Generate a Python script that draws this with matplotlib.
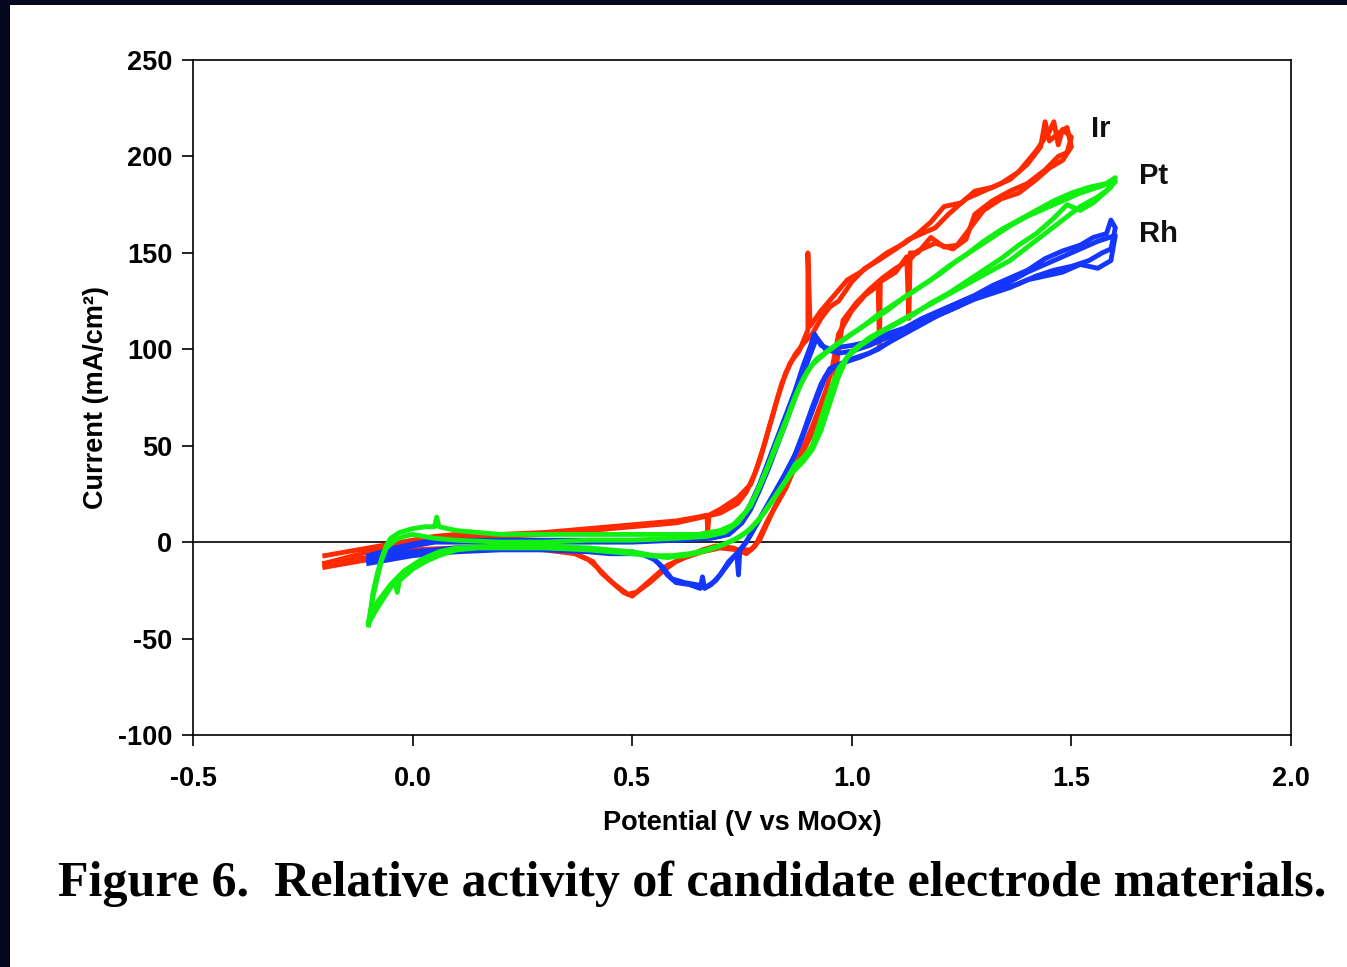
import matplotlib
matplotlib.use("Agg")
import matplotlib.pyplot as plt
from matplotlib.patches import Rectangle

# Ir (red) - two cycles, (potential, current)
ir_v1 = [-0.20, -0.15, -0.10, -0.05, 0.00, 0.05, 0.10, 0.20, 0.30, 0.40, 0.50, 0.60, 0.65, 0.67, 0.672, 0.675,
         0.70, 0.74, 0.77, 0.79, 0.81, 0.83, 0.85, 0.87, 0.89, 0.91, 0.93, 0.95, 0.97, 1.00, 1.03, 1.06, 1.10,
         1.13, 1.16, 1.19, 1.22, 1.26, 1.30, 1.34, 1.38, 1.42, 1.45, 1.46, 1.47, 1.48, 1.50,
         1.49, 1.47, 1.44, 1.40, 1.36, 1.32, 1.28, 1.26, 1.23, 1.19, 1.15, 1.13, 1.10, 1.07, 1.04, 1.01, 0.98,
         0.97, 0.96, 0.93, 0.90, 0.86, 0.82, 0.79, 0.77, 0.74, 0.70, 0.66, 0.62, 0.58, 0.55, 0.52, 0.50, 0.48,
         0.45, 0.42, 0.40, 0.35, 0.30, 0.20, 0.10, 0.00, -0.10, -0.20]
ir_i1 = [-7, -5, -3, -1, 1, 3, 4, 4, 5, 7, 9, 11, 13, 14, 6, 14,
         17, 23, 30, 42, 58, 74, 88, 97, 103, 108, 116, 122, 125, 135, 142, 146, 152,
         157, 160, 163, 170, 178, 182, 186, 192, 203, 213, 218, 206, 214, 210,
         202, 200, 193, 186, 182, 177, 170, 157, 152, 155, 151, 146, 142, 137, 131, 124, 115,
         100, 83, 66, 52, 34, 16, 1, -4, -4, -3, -5, -8, -12, -18, -24, -28, -26,
         -20, -13, -9, -4, -3, -2, -3, -4, -8, -11]
ir_v2 = [-0.20, -0.15, -0.10, -0.05, 0.00, 0.05, 0.10, 0.20, 0.30, 0.40, 0.50, 0.60, 0.70, 0.74, 0.76, 0.78,
         0.80, 0.82, 0.84, 0.86, 0.88, 0.90, 0.90, 0.905, 0.93, 0.96, 0.99, 1.02, 1.05, 1.08, 1.12, 1.15, 1.18,
         1.21, 1.25, 1.28, 1.32, 1.36, 1.40, 1.43, 1.44, 1.45, 1.47, 1.49, 1.50,
         1.48, 1.45, 1.42, 1.38, 1.34, 1.30, 1.27, 1.24, 1.21, 1.18, 1.15, 1.133, 1.13, 1.125, 1.10, 1.065,
         1.063, 1.06, 1.03, 1.00, 0.97, 0.955, 0.94, 0.91, 0.88, 0.85, 0.81, 0.78, 0.76, 0.73, 0.69, 0.66,
         0.63, 0.60, 0.57, 0.54, 0.51, 0.49, 0.46, 0.43, 0.41, 0.37, 0.30, 0.20, 0.10, 0.00, -0.10, -0.20]
ir_i2 = [-11, -8, -5, -2, 0, 2, 3, 3, 4, 6, 8, 10, 15, 20, 26, 36,
         50, 66, 82, 93, 99, 110, 150, 112, 120, 128, 136, 140, 145, 150, 155, 160, 166,
         174, 176, 182, 184, 188, 196, 205, 218, 208, 212, 215, 205,
         198, 194, 188, 181, 178, 172, 163, 154, 153, 158, 150, 150, 116, 148, 140, 135,
         101, 133, 128, 120, 108, 90, 78, 60, 44, 28, 12, -2, -6, -3, -2, -4,
         -7, -10, -15, -21, -26, -27, -22, -16, -10, -6, -4, -3, -4, -5, -9, -13]

# Rh (blue)
rh_v1 = [-0.10, -0.07, -0.04, 0.00, 0.05, 0.10, 0.20, 0.30, 0.40, 0.50, 0.60, 0.66, 0.70, 0.73, 0.75, 0.77,
         0.79, 0.81, 0.83, 0.85, 0.87, 0.89, 0.905, 0.915, 0.93, 0.95, 0.97, 1.00, 1.04, 1.08, 1.12, 1.16,
         1.20, 1.24, 1.28, 1.32, 1.36, 1.40, 1.44, 1.48, 1.52, 1.55, 1.58, 1.59, 1.60,
         1.59, 1.57, 1.54, 1.50, 1.46, 1.42, 1.38, 1.34, 1.30, 1.26, 1.22, 1.18, 1.14, 1.10, 1.06, 1.02,
         0.98, 0.95, 0.93, 0.91, 0.89, 0.87, 0.84, 0.81, 0.78, 0.76, 0.745, 0.742, 0.738, 0.72, 0.70, 0.68,
         0.665, 0.66, 0.655, 0.63, 0.60, 0.58, 0.56, 0.54, 0.50, 0.45, 0.40, 0.30, 0.20, 0.10, 0.05, 0.00,
         -0.05, -0.10]
rh_i1 = [-7, -5, -3, -1, 1, 1, 1, 1, 1, 1, 1, 2, 3, 6, 12, 20,
         30, 42, 54, 66, 78, 92, 101, 108, 102, 100, 101, 102, 104, 108, 111, 116,
         120, 124, 128, 133, 137, 141, 147, 151, 154, 158, 160, 167, 163,
         152, 150, 146, 143, 141, 138, 134, 131, 128, 125, 121, 116, 111, 106, 100, 96,
         93, 90, 82, 70, 57, 45, 32, 20, 8, 0, -4, -17, -6, -10, -17, -22,
         -24, -18, -24, -22, -21, -17, -11, -7, -5, -5, -4, -3, -3, -3, -4, -5,
         -7, -9]
rh_v2 = [-0.10, -0.07, -0.03, 0.00, 0.05, 0.10, 0.20, 0.30, 0.40, 0.50, 0.60, 0.68, 0.72, 0.75, 0.77, 0.79,
         0.81, 0.83, 0.85, 0.87, 0.89, 0.91, 0.92, 0.94, 0.97, 1.00, 1.04, 1.08, 1.12, 1.16, 1.20, 1.24,
         1.28, 1.32, 1.36, 1.40, 1.44, 1.48, 1.52, 1.56, 1.60,
         1.59, 1.56, 1.52, 1.48, 1.44, 1.40, 1.36, 1.32, 1.28, 1.24, 1.20, 1.16, 1.12, 1.08, 1.04, 1.00,
         0.96, 0.94, 0.92, 0.90, 0.88, 0.86, 0.83, 0.80, 0.77, 0.75, 0.73, 0.71, 0.69, 0.67, 0.645, 0.62,
         0.59, 0.57, 0.55, 0.52, 0.45, 0.40, 0.30, 0.20, 0.10, 0.05, 0.00, -0.05, -0.10]
rh_i2 = [-10, -7, -4, -2, 0, 0, 0, 0, 0, 0, 1, 2, 4, 10, 17, 27,
         38, 50, 62, 75, 88, 100, 106, 100, 98, 99, 102, 106, 110, 114, 118, 122,
         127, 131, 135, 140, 144, 148, 152, 156, 159,
         146, 142, 144, 140, 138, 136, 132, 129, 126, 122, 118, 113, 108, 103, 98, 95,
         91, 86, 74, 62, 50, 40, 28, 16, 4, -3, -8, -14, -20, -23, -22, -21,
         -19, -13, -9, -6, -6, -5, -4, -4, -5, -6, -7, -9, -11]

# Pt (green)
pt_v1 = [-0.10, -0.095, -0.09, -0.08, -0.07, -0.06, -0.05, -0.03, 0.00, 0.03, 0.05, 0.055, 0.06, 0.10,
         0.15, 0.20, 0.30, 0.40, 0.50, 0.60, 0.65, 0.70, 0.73, 0.76, 0.78, 0.80, 0.82, 0.84, 0.86, 0.88,
         0.90, 0.92, 0.95, 0.98, 1.02, 1.06, 1.10, 1.14, 1.18, 1.22, 1.26, 1.30, 1.34, 1.38, 1.42, 1.46,
         1.50, 1.54, 1.58, 1.60,
         1.59, 1.56, 1.52, 1.48, 1.44, 1.40, 1.36, 1.32, 1.28, 1.24, 1.20, 1.16, 1.12, 1.08, 1.04, 1.00,
         0.97, 0.95, 0.93, 0.91, 0.89, 0.87, 0.85, 0.82, 0.79, 0.76, 0.73, 0.70, 0.66, 0.62, 0.58, 0.54,
         0.50, 0.45, 0.40, 0.30, 0.20, 0.15, 0.10, 0.06, 0.03, 0.00, -0.03, -0.035, -0.04, -0.06, -0.08,
         -0.10]
pt_i1 = [-43, -35, -26, -16, -8, -2, 2, 5, 7, 8, 8, 13, 8, 6,
         5, 4, 4, 4, 4, 4, 4, 6, 9, 16, 24, 34, 45, 56, 68, 80,
         89, 95, 100, 105, 111, 118, 124, 130, 136, 143, 149, 156, 162, 167, 172, 177,
         181, 184, 186, 189,
         184, 179, 174, 167, 160, 153, 146, 141, 136, 131, 126, 121, 116, 111, 106, 99,
         90, 78, 64, 50, 44, 40, 32, 22, 12, 5, 1, -2, -5, -7, -8, -7,
         -6, -5, -4, -3, -3, -3, -4, -7, -10, -14, -20, -26, -20, -27, -34,
         -42]
pt_v2 = [-0.10, -0.09, -0.08, -0.07, -0.06, -0.04, -0.02, 0.00, 0.05, 0.10, 0.20, 0.30, 0.40, 0.50, 0.60,
         0.67, 0.71, 0.74, 0.77, 0.79, 0.81, 0.83, 0.85, 0.87, 0.89, 0.91, 0.94, 0.97, 1.00, 1.04, 1.08,
         1.12, 1.16, 1.20, 1.24, 1.28, 1.32, 1.36, 1.40, 1.44, 1.48, 1.52, 1.56, 1.60,
         1.58, 1.55, 1.52, 1.49, 1.46, 1.42, 1.38, 1.34, 1.30, 1.26, 1.22, 1.18, 1.14, 1.10, 1.06, 1.02,
         0.99, 0.97, 0.95, 0.93, 0.91, 0.89, 0.86, 0.83, 0.80, 0.77, 0.74, 0.71, 0.67, 0.63, 0.59, 0.55,
         0.50, 0.45, 0.40, 0.30, 0.20, 0.10, 0.06, 0.02, -0.02, -0.05, -0.08, -0.10]
pt_i2 = [-41, -28, -18, -9, -3, 1, 3, 4, 2, 1, 0, 0, 1, 1, 2,
         3, 5, 10, 19, 29, 40, 52, 63, 75, 85, 92, 98, 103, 108, 114, 120,
         127, 133, 139, 146, 152, 158, 164, 169, 173, 177, 181, 184, 187,
         182, 176, 172, 175, 168, 160, 154, 147, 141, 135, 129, 124, 118, 113, 108, 102,
         96, 86, 72, 58, 48, 42, 35, 25, 15, 7, 2, -1, -4, -6, -7, -7,
         -5, -4, -3, -2, -2, -3, -5, -9, -15, -22, -31, -41]

labels = ["Ir", "Pt", "Rh"]
label_pos = [(1.545, 214), (1.655, 190), (1.655, 160)]

x_ticks = [-0.5, 0.0, 0.5, 1.0, 1.5, 2.0]
y_ticks = [-100, -50, 0, 50, 100, 150, 200, 250]

RED = "#ff2a00"
BLUE = "#1436ff"
GREEN = "#12f012"

plt.rcParams["font.family"] = ["Liberation Sans", "DejaVu Sans"]
plt.rcParams["axes.unicode_minus"] = False

fig = plt.figure(figsize=(13.47, 9.67), dpi=100)
fig.patch.set_facecolor("#05071f")
# white slide panel behind the chart
fig.patches.append(Rectangle((10 / 1347, 0), 1.0, 1 - 5 / 967, transform=fig.transFigure,
                             facecolor="white", edgecolor="none", zorder=-10))

ax = fig.add_axes([193 / 1347, 1 - 735 / 967, 1098 / 1347, 675 / 967])
ax.set_facecolor("white")

ax.axhline(0, color="black", linewidth=1.2, zorder=1)

lw = 3.5
for v, i in [(ir_v1, ir_i1), (ir_v2, ir_i2)]:
    ax.plot(v, i, color=RED, linewidth=lw, zorder=2, solid_joinstyle="round")
for v, i in [(rh_v1, rh_i1), (rh_v2, rh_i2)]:
    ax.plot(v, i, color=BLUE, linewidth=lw, zorder=3, solid_joinstyle="round")
for v, i in [(pt_v1, pt_i1), (pt_v2, pt_i2)]:
    ax.plot(v, i, color=GREEN, linewidth=lw, zorder=4, solid_joinstyle="round")

for lab, (px, py) in zip(labels, label_pos):
    ax.text(px, py, lab, fontsize=21, fontweight="bold", ha="left", va="center", color="#111111")

ax.set_xlim(-0.5, 2.0)
ax.set_ylim(-100, 250)
ax.set_xticks(x_ticks)
ax.set_yticks(y_ticks)
ax.set_xticklabels([f"{t:.1f}" for t in x_ticks])
ax.tick_params(direction="out", length=8, width=1.2, labelsize=19.5, colors="black")
ax.tick_params(axis="x", pad=14)
ax.tick_params(axis="y", pad=7)
for lab in ax.get_xticklabels() + ax.get_yticklabels():
    lab.set_fontweight("bold")
for spine in ax.spines.values():
    spine.set_linewidth(1.2)
    spine.set_color("black")

ax.set_xlabel("Potential (V vs MoOx)", fontsize=19.5, fontweight="bold", labelpad=13)
ax.set_ylabel("Current (mA/cm²)", fontsize=19.5, fontweight="bold", labelpad=6)

fig.text(692 / 1347, 1 - 884 / 967, "Figure 6.  Relative activity of candidate electrode materials.",
         family="Liberation Serif", fontweight="bold", fontsize=36, ha="center", va="center")

fig.savefig("out.png", dpi=100, facecolor=fig.get_facecolor())
